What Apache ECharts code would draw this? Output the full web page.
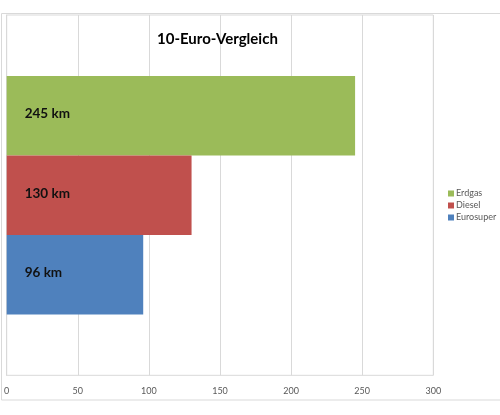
<!DOCTYPE html>
<html>
<head>
<meta charset="utf-8">
<script src="https://cdn.jsdelivr.net/npm/echarts@6/dist/echarts.min.js"></script>
<style>
  html, body { margin: 0; padding: 0; background: #fff; }
  #chart { width: 500px; height: 415px; }
</style>
</head>
<body>
<div id="chart"></div>
<script>
// values (km for 10 Euro)
const categories = ["10-Euro"];
const seriesNames = ["Erdgas", "Diesel", "Eurosuper"];
const seriesValues = [[245], [130], [96]];
const seriesColors = ["#9BBB59", "#C0504D", "#4F81BD"];

const chart = echarts.init(document.getElementById("chart"));

const series = seriesNames.map(function (name, i) {
    return {
        name: name,
        type: "bar",
        data: seriesValues[i],
        barWidth: 79.5,
        barGap: "0%",
        itemStyle: { color: seriesColors[i] },
        label: {
            show: true,
            position: "insideLeft",
            distance: 18,
            offset: [0, -2],
            formatter: "{c} km",
            color: "#111",
            fontFamily: "Lato",
            fontWeight: "bold",
            fontSize: 13.5
        }
    };
});

chart.setOption({
    animation: false,
    textStyle: { fontFamily: "Lato" },
    title: {
        text: "10-Euro-Vergleich",
        left: 152,
        top: 27,
        textStyle: { fontFamily: "Lato", fontWeight: "bold", fontSize: 15, color: "#000" }
    },
    legend: {
        orient: "vertical",
        left: 443,
        top: 184,
        data: seriesNames,
        icon: "rect",
        itemWidth: 6,
        itemHeight: 6,
        itemGap: 3,
        textStyle: { fontSize: 9, color: "#595959", padding: [0, 0, 0, -3] }
    },
    grid: {
        left: 6.7,
        right: 66.7,
        top: 15,
        bottom: 39.7,
        show: true,
        borderColor: "#d9d9d9",
        borderWidth: 1
    },
    xAxis: {
        type: "value",
        min: 0,
        max: 300,
        interval: 50,
        axisLine: { show: false },
        axisTick: { show: false },
        splitLine: { lineStyle: { color: "#d9d9d9" } },
        axisLabel: { fontSize: 9, color: "#595959", margin: 11 }
    },
    yAxis: {
        type: "category",
        data: categories,
        axisLine: { show: true, lineStyle: { color: "#d9d9d9" } },
        axisTick: { show: false },
        axisLabel: { show: false }
    },
    graphic: [{
        type: "rect",
        shape: { x: 1.5, y: 13.5, width: 520, height: 386.5 },
        style: { fill: "none", stroke: "#d9d9d9", lineWidth: 1 },
        silent: true,
        z: -10
    }],
    series: series
});
</script>
</body>
</html>
